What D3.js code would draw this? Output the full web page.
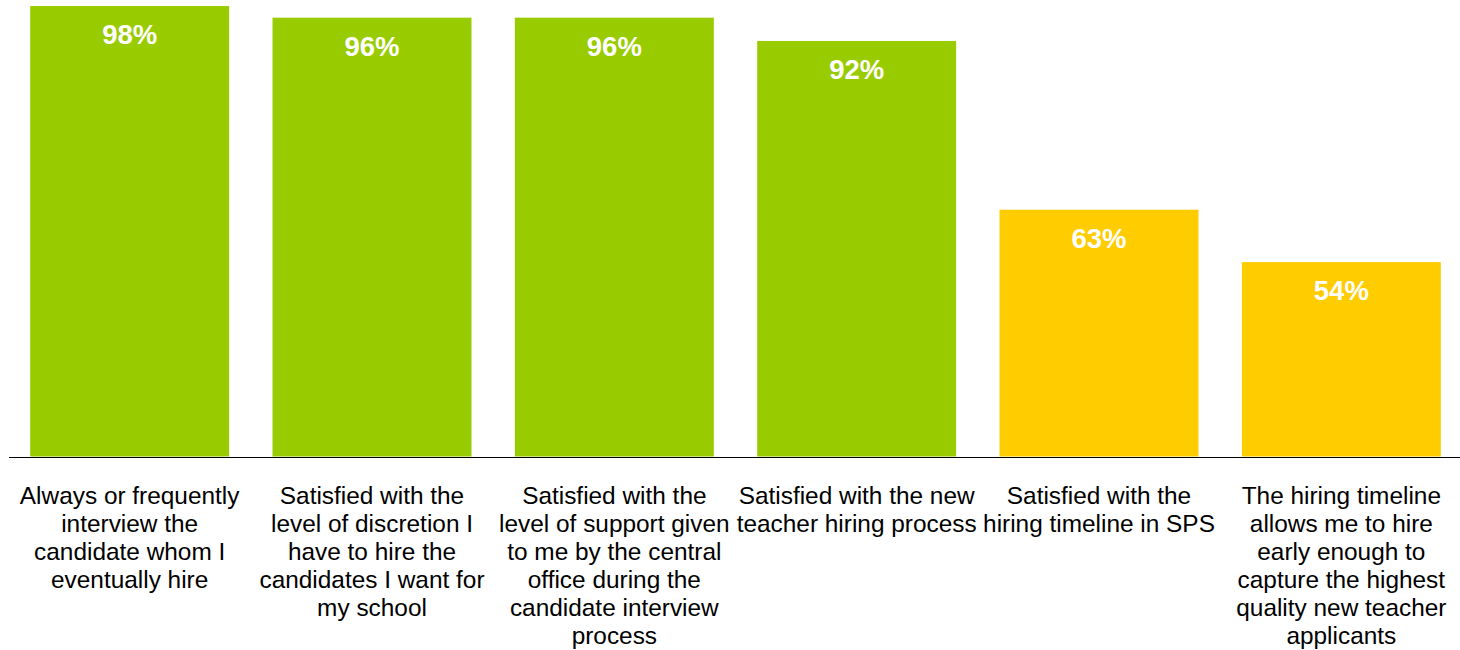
<!DOCTYPE html>
<html>
<head>
<meta charset="utf-8">
<script src="https://cdn.jsdelivr.net/npm/d3@7"></script>
<style>
  html, body { margin: 0; padding: 0; background: #fff; }
  svg { display: block; }
</style>
</head>
<body>
<svg id="chart" width="1460" height="650"></svg>
<script>
// Survey items (label lines as they wrap under each bar)
const categories = [
  "Always or frequently interview the candidate whom I eventually hire",
  "Satisfied with the level of discretion I have to hire the candidates I want for my school",
  "Satisfied with the level of support given to me by the central office during the candidate interview process",
  "Satisfied with the new teacher hiring process",
  "Satisfied with the hiring timeline in SPS",
  "The hiring timeline allows me to hire early enough to capture the highest quality new teacher applicants"
];
const labelLines = [
  ["Always or frequently", "interview the", "candidate whom I", "eventually hire"],
  ["Satisfied with the", "level of discretion I", "have to hire the", "candidates I want for", "my school"],
  ["Satisfied with the", "level of support given", "to me by the central", "office during the", "candidate interview", "process"],
  ["Satisfied with the new", "teacher hiring process"],
  ["Satisfied with the", "hiring timeline in SPS"],
  ["The hiring timeline", "allows me to hire", "early enough to", "capture the highest", "quality new teacher", "applicants"]
];
const values = [98, 96, 96, 92, 63, 54];
const barColors = ["#99CC00", "#99CC00", "#99CC00", "#99CC00", "#FFCC00", "#FFCC00"];

const svg = d3.select("#chart");
const baseline = 456.5;

const x = d3.scaleBand()
  .domain(categories)
  .range([8.5, 1462.5])
  .paddingInner(0.179)
  .paddingOuter(0.0895);

const y = d3.scaleLinear()
  .domain([20.6, 100])
  .range([baseline, -5.6]);

// Bars
svg.append("g")
  .selectAll("rect")
  .data(values)
  .join("rect")
  .attr("x", (d, i) => x(categories[i]))
  .attr("y", d => y(d))
  .attr("width", x.bandwidth())
  .attr("height", d => baseline - y(d))
  .attr("fill", (d, i) => barColors[i]);

// Value labels inside the top of each bar
svg.append("g")
  .selectAll("text")
  .data(values)
  .join("text")
  .attr("x", (d, i) => x(categories[i]) + x.bandwidth() / 2)
  .attr("y", d => y(d) + 38)
  .attr("text-anchor", "middle")
  .attr("fill", "#ffffff")
  .attr("font-family", "Liberation Sans, Arial, sans-serif")
  .attr("font-weight", "bold")
  .attr("font-size", 27.5)
  .text(d => d + "%");

// Category axis: baseline rule plus wrapped labels
const axis = svg.append("g")
  .attr("transform", `translate(0,${baseline + 0.5})`)
  .call(d3.axisBottom(x).tickSize(0).tickSizeOuter(0).tickFormat(""));
axis.select(".domain").attr("stroke", "#000").attr("stroke-width", 1.2);

const labels = svg.append("g")
  .attr("font-family", "Liberation Sans, Arial, sans-serif")
  .attr("font-size", 24.4)
  .attr("fill", "#000")
  .attr("text-anchor", "middle");

categories.forEach((c, i) => {
  const t = labels.append("text")
    .attr("x", x(c) + x.bandwidth() / 2)
    .attr("y", 504);
  labelLines[i].forEach((line, j) => {
    t.append("tspan")
      .attr("x", x(c) + x.bandwidth() / 2)
      .attr("dy", j === 0 ? 0 : 28)
      .text(line);
  });
});
</script>
</body>
</html>
